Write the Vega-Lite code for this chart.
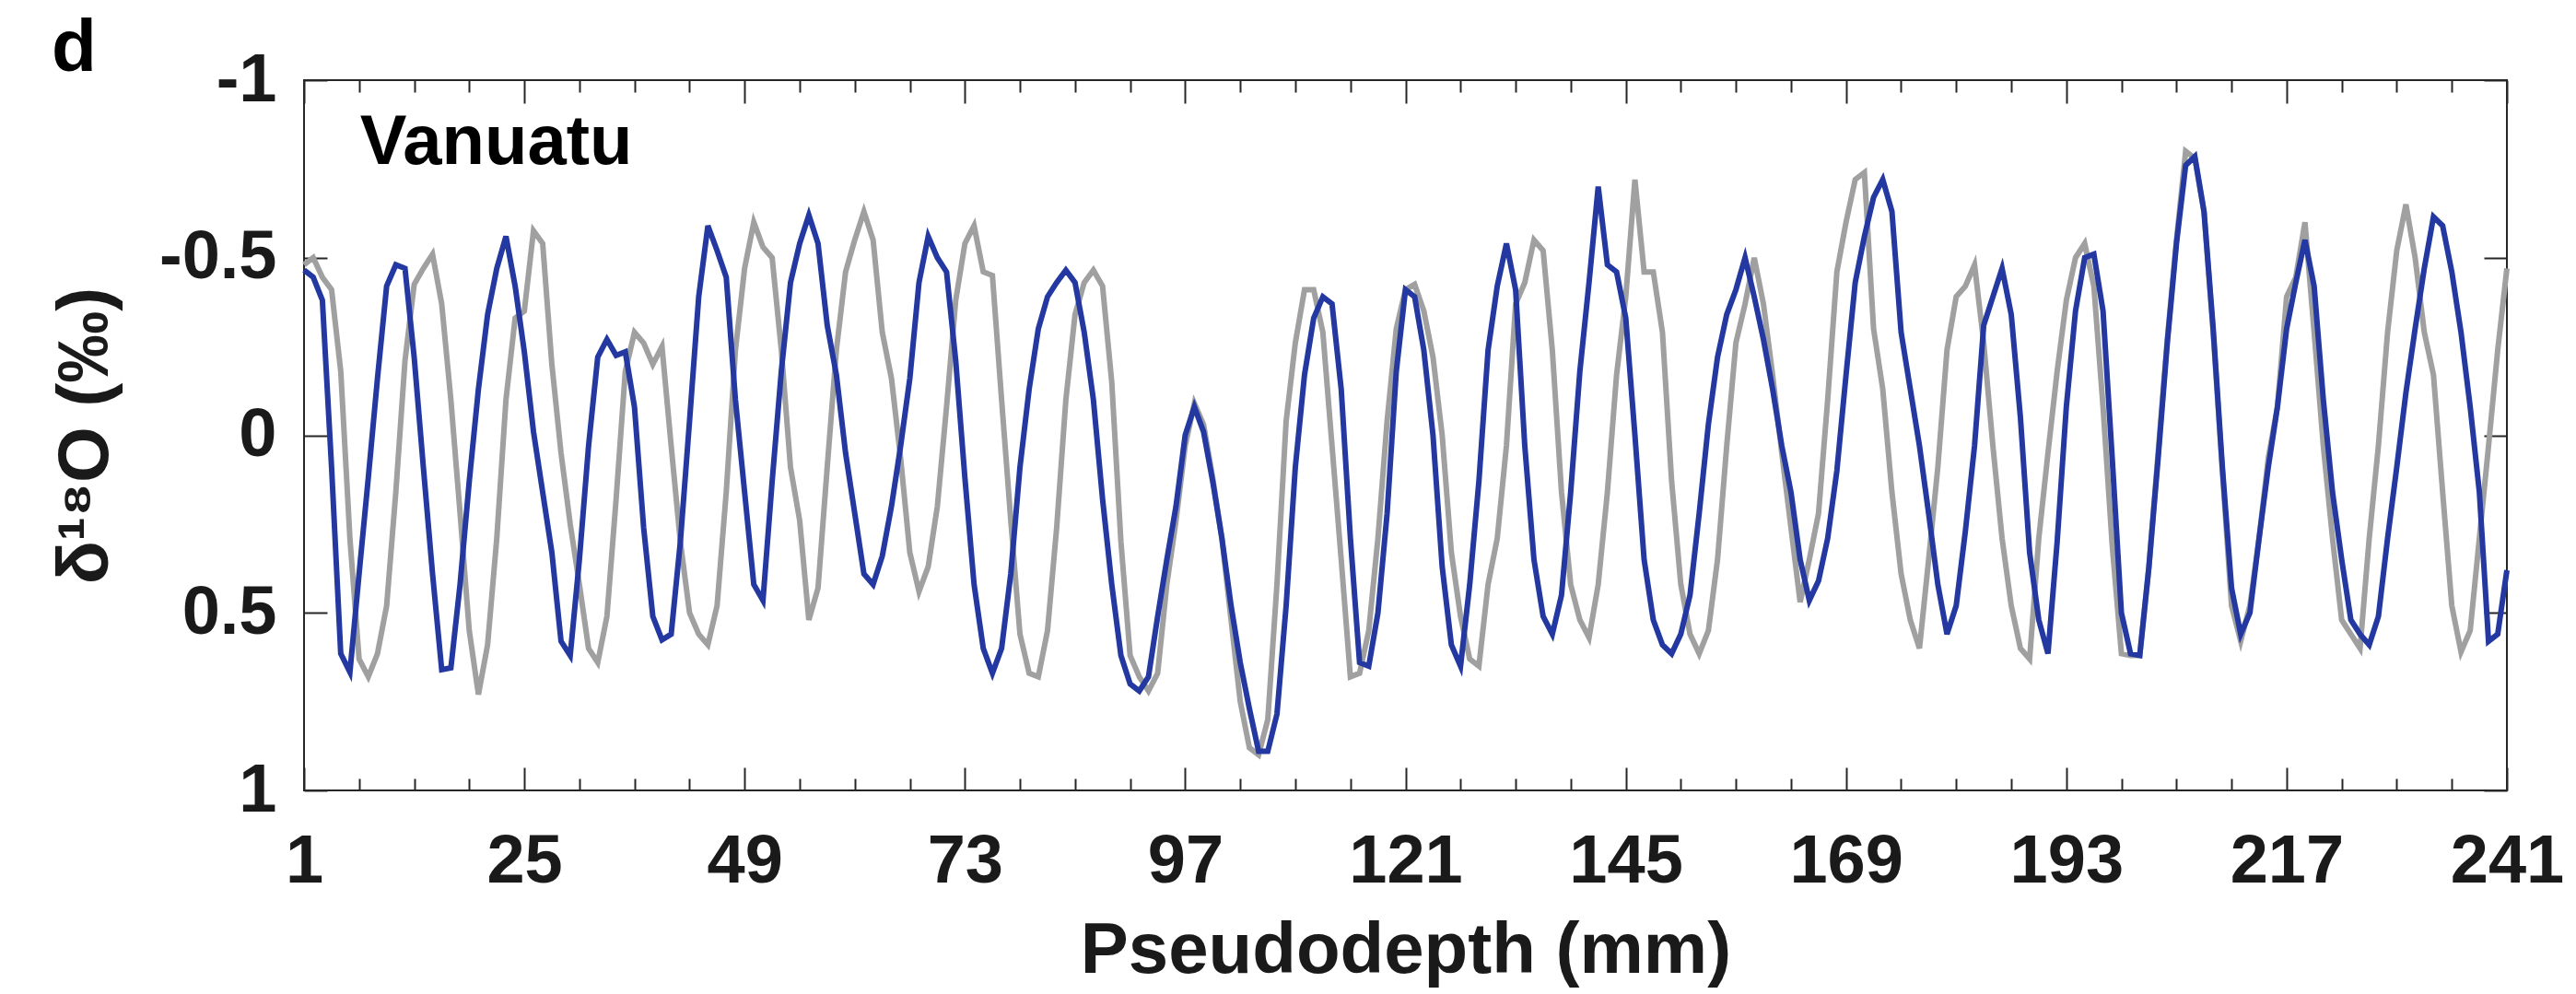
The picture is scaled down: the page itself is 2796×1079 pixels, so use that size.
{
 "$schema": "https://vega.github.io/schema/vega-lite/v6.json",
 "width": 2391, "height": 771,
 "autosize": {"type": "none"},
 "padding": {"left": 330, "top": 87, "right": 75, "bottom": 221},
 "background": "white",
 "config": {
  "view": {"stroke": "#262626", "strokeWidth": 2},
  "font": "Liberation Sans",
  "axis": {"domain": false, "grid": false, "tickColor": "#262626", "tickWidth": 2, "labelFont": "Liberation Sans", "labelFontWeight": "bold", "labelFontSize": 74, "labelColor": "#1a1a1a", "titleFont": "Liberation Sans", "titleFontWeight": "bold", "titleFontSize": 78, "titleColor": "#1a1a1a", "labelFlush": false, "labelOverlap": false}
 },
 "title": {"text": "d", "anchor": "start", "frame": "group", "fontSize": 80, "fontWeight": "bold", "font": "Liberation Sans", "color": "#000000", "dx": -274, "dy": 117, "offset": 10, "baseline": "alphabetic"},
 "datasets": {
  "gray": [
   {"d":1,"v":-0.48},{"d":2,"v":-0.50},{"d":3,"v":-0.445},{"d":4,"v":-0.41},{"d":5,"v":-0.18},{"d":6,"v":0.29},{"d":7,"v":0.63},{"d":8,"v":0.68},{"d":9,"v":0.615},{"d":10,"v":0.48},
   {"d":11,"v":0.16},{"d":12,"v":-0.21},{"d":13,"v":-0.425},{"d":14,"v":-0.47},{"d":15,"v":-0.51},{"d":16,"v":-0.37},{"d":17,"v":-0.10},{"d":18,"v":0.22},{"d":19,"v":0.55},{"d":20,"v":0.73},
   {"d":21,"v":0.59},{"d":22,"v":0.29},{"d":23,"v":-0.10},{"d":24,"v":-0.33},{"d":25,"v":-0.35},{"d":26,"v":-0.576},{"d":27,"v":-0.54},{"d":28,"v":-0.2},{"d":29,"v":0.05},{"d":30,"v":0.25},
   {"d":31,"v":0.42},{"d":32,"v":0.60},{"d":33,"v":0.64},{"d":34,"v":0.51},{"d":35,"v":0.18},{"d":36,"v":-0.18},{"d":37,"v":-0.29},{"d":38,"v":-0.26},{"d":39,"v":-0.20},{"d":40,"v":-0.25},
   {"d":41,"v":0.03},{"d":42,"v":0.30},{"d":43,"v":0.50},{"d":44,"v":0.56},{"d":45,"v":0.59},{"d":46,"v":0.48},{"d":47,"v":0.16},{"d":48,"v":-0.24},{"d":49,"v":-0.47},{"d":50,"v":-0.60},
   {"d":51,"v":-0.53},{"d":52,"v":-0.50},{"d":53,"v":-0.24},{"d":54,"v":0.09},{"d":55,"v":0.24},{"d":56,"v":0.52},{"d":57,"v":0.43},{"d":58,"v":0.09},{"d":59,"v":-0.24},{"d":60,"v":-0.46},
   {"d":61,"v":-0.55},{"d":62,"v":-0.63},{"d":63,"v":-0.55},{"d":64,"v":-0.29},{"d":65,"v":-0.16},{"d":66,"v":0.065},{"d":67,"v":0.33},{"d":68,"v":0.44},{"d":69,"v":0.37},{"d":70,"v":0.20},
   {"d":71,"v":-0.08},{"d":72,"v":-0.38},{"d":73,"v":-0.54},{"d":74,"v":-0.59},{"d":75,"v":-0.46},{"d":76,"v":-0.45},{"d":77,"v":-0.10},{"d":78,"v":0.24},{"d":79,"v":0.56},{"d":80,"v":0.67},
   {"d":81,"v":0.68},{"d":82,"v":0.55},{"d":83,"v":0.26},{"d":84,"v":-0.10},{"d":85,"v":-0.34},{"d":86,"v":-0.43},{"d":87,"v":-0.465},{"d":88,"v":-0.42},{"d":89,"v":-0.15},{"d":90,"v":0.30},
   {"d":91,"v":0.62},{"d":92,"v":0.68},{"d":93,"v":0.72},{"d":94,"v":0.67},{"d":95,"v":0.42},{"d":96,"v":0.24},{"d":97,"v":0.03},{"d":98,"v":-0.09},{"d":99,"v":-0.03},{"d":100,"v":0.12},
   {"d":101,"v":0.29},{"d":102,"v":0.52},{"d":103,"v":0.75},{"d":104,"v":0.88},{"d":105,"v":0.90},{"d":106,"v":0.80},{"d":107,"v":0.42},{"d":108,"v":-0.04},{"d":109,"v":-0.26},{"d":110,"v":-0.41},
   {"d":111,"v":-0.41},{"d":112,"v":-0.29},{"d":113,"v":0.03},{"d":114,"v":0.35},{"d":115,"v":0.68},{"d":116,"v":0.67},{"d":117,"v":0.55},{"d":118,"v":0.29},{"d":119,"v":-0.04},{"d":120,"v":-0.30},
   {"d":121,"v":-0.41},{"d":122,"v":-0.425},{"d":123,"v":-0.35},{"d":124,"v":-0.22},{"d":125,"v":0.00},{"d":126,"v":0.33},{"d":127,"v":0.51},{"d":128,"v":0.63},{"d":129,"v":0.65},{"d":130,"v":0.42},
   {"d":131,"v":0.29},{"d":132,"v":0.03},{"d":133,"v":-0.37},{"d":134,"v":-0.43},{"d":135,"v":-0.55},{"d":136,"v":-0.52},{"d":137,"v":-0.24},{"d":138,"v":0.16},{"d":139,"v":0.42},{"d":140,"v":0.52},
   {"d":141,"v":0.57},{"d":142,"v":0.42},{"d":143,"v":0.16},{"d":144,"v":-0.17},{"d":145,"v":-0.39},{"d":146,"v":-0.72},{"d":147,"v":-0.46},{"d":148,"v":-0.46},{"d":149,"v":-0.29},{"d":150,"v":0.13},
   {"d":151,"v":0.42},{"d":152,"v":0.56},{"d":153,"v":0.615},{"d":154,"v":0.55},{"d":155,"v":0.35},{"d":156,"v":0.03},{"d":157,"v":-0.26},{"d":158,"v":-0.37},{"d":159,"v":-0.50},{"d":160,"v":-0.37},
   {"d":161,"v":-0.17},{"d":162,"v":0.05},{"d":163,"v":0.26},{"d":164,"v":0.47},{"d":165,"v":0.35},{"d":166,"v":0.22},{"d":167,"v":-0.10},{"d":168,"v":-0.46},{"d":169,"v":-0.60},{"d":170,"v":-0.72},
   {"d":171,"v":-0.74},{"d":172,"v":-0.30},{"d":173,"v":-0.13},{"d":174,"v":0.16},{"d":175,"v":0.39},{"d":176,"v":0.52},{"d":177,"v":0.60},{"d":178,"v":0.35},{"d":179,"v":0.09},{"d":180,"v":-0.24},
   {"d":181,"v":-0.39},{"d":182,"v":-0.42},{"d":183,"v":-0.48},{"d":184,"v":-0.26},{"d":185,"v":0.03},{"d":186,"v":0.29},{"d":187,"v":0.48},{"d":188,"v":0.60},{"d":189,"v":0.63},{"d":190,"v":0.29},
   {"d":191,"v":0.05},{"d":192,"v":-0.18},{"d":193,"v":-0.38},{"d":194,"v":-0.50},{"d":195,"v":-0.54},{"d":196,"v":-0.42},{"d":197,"v":-0.08},{"d":198,"v":0.31},{"d":199,"v":0.615},{"d":200,"v":0.62},
   {"d":201,"v":0.62},{"d":202,"v":0.37},{"d":203,"v":0.05},{"d":204,"v":-0.27},{"d":205,"v":-0.55},{"d":206,"v":-0.80},{"d":207,"v":-0.78},{"d":208,"v":-0.63},{"d":209,"v":-0.29},{"d":210,"v":0.10},
   {"d":211,"v":0.48},{"d":212,"v":0.58},{"d":213,"v":0.48},{"d":214,"v":0.29},{"d":215,"v":0.065},{"d":216,"v":-0.08},{"d":217,"v":-0.39},{"d":218,"v":-0.445},{"d":219,"v":-0.60},{"d":220,"v":-0.29},
   {"d":221,"v":0.03},{"d":222,"v":0.29},{"d":223,"v":0.52},{"d":224,"v":0.56},{"d":225,"v":0.60},{"d":226,"v":0.29},{"d":227,"v":0.03},{"d":228,"v":-0.29},{"d":229,"v":-0.52},{"d":230,"v":-0.65},
   {"d":231,"v":-0.50},{"d":232,"v":-0.29},{"d":233,"v":-0.17},{"d":234,"v":0.16},{"d":235,"v":0.48},{"d":236,"v":0.61},{"d":237,"v":0.55},{"d":238,"v":0.29},{"d":239,"v":0.03},{"d":240,"v":-0.24},
   {"d":241,"v":-0.47}
  ],
  "blue": [
   {"d":1,"v":-0.465},{"d":2,"v":-0.445},{"d":3,"v":-0.38},{"d":4,"v":0.09},{"d":5,"v":0.615},{"d":6,"v":0.667},{"d":7,"v":0.39},{"d":8,"v":0.12},{"d":9,"v":-0.16},{"d":10,"v":-0.42},
   {"d":11,"v":-0.48},{"d":12,"v":-0.47},{"d":13,"v":-0.22},{"d":14,"v":0.09},{"d":15,"v":0.39},{"d":16,"v":0.66},{"d":17,"v":0.655},{"d":18,"v":0.42},{"d":19,"v":0.13},{"d":20,"v":-0.13},
   {"d":21,"v":-0.34},{"d":22,"v":-0.47},{"d":23,"v":-0.56},{"d":24,"v":-0.42},{"d":25,"v":-0.235},{"d":26,"v":-0.01},{"d":27,"v":0.16},{"d":28,"v":0.33},{"d":29,"v":0.58},{"d":30,"v":0.62},
   {"d":31,"v":0.35},{"d":32,"v":0.03},{"d":33,"v":-0.22},{"d":34,"v":-0.27},{"d":35,"v":-0.225},{"d":36,"v":-0.235},{"d":37,"v":-0.08},{"d":38,"v":0.26},{"d":39,"v":0.51},{"d":40,"v":0.576},
   {"d":41,"v":0.56},{"d":42,"v":0.30},{"d":43,"v":-0.04},{"d":44,"v":-0.39},{"d":45,"v":-0.59},{"d":46,"v":-0.52},{"d":47,"v":-0.445},{"d":48,"v":-0.10},{"d":49,"v":0.16},{"d":50,"v":0.42},
   {"d":51,"v":0.465},{"d":52,"v":0.13},{"d":53,"v":-0.18},{"d":54,"v":-0.43},{"d":55,"v":-0.54},{"d":56,"v":-0.62},{"d":57,"v":-0.54},{"d":58,"v":-0.31},{"d":59,"v":-0.17},{"d":60,"v":0.05},
   {"d":61,"v":0.22},{"d":62,"v":0.39},{"d":63,"v":0.42},{"d":64,"v":0.34},{"d":65,"v":0.20},{"d":66,"v":0.03},{"d":67,"v":-0.16},{"d":68,"v":-0.43},{"d":69,"v":-0.56},{"d":70,"v":-0.50},
   {"d":71,"v":-0.46},{"d":72,"v":-0.21},{"d":73,"v":0.12},{"d":74,"v":0.42},{"d":75,"v":0.60},{"d":76,"v":0.67},{"d":77,"v":0.60},{"d":78,"v":0.39},{"d":79,"v":0.09},{"d":80,"v":-0.13},
   {"d":81,"v":-0.30},{"d":82,"v":-0.39},{"d":83,"v":-0.43},{"d":84,"v":-0.465},{"d":85,"v":-0.43},{"d":86,"v":-0.29},{"d":87,"v":-0.10},{"d":88,"v":0.18},{"d":89,"v":0.42},{"d":90,"v":0.62},
   {"d":91,"v":0.70},{"d":92,"v":0.72},{"d":93,"v":0.68},{"d":94,"v":0.51},{"d":95,"v":0.35},{"d":96,"v":0.20},{"d":97,"v":0.00},{"d":98,"v":-0.08},{"d":99,"v":-0.01},{"d":100,"v":0.13},
   {"d":101,"v":0.29},{"d":102,"v":0.48},{"d":103,"v":0.64},{"d":104,"v":0.77},{"d":105,"v":0.89},{"d":106,"v":0.89},{"d":107,"v":0.785},{"d":108,"v":0.48},{"d":109,"v":0.09},{"d":110,"v":-0.17},
   {"d":111,"v":-0.33},{"d":112,"v":-0.39},{"d":113,"v":-0.37},{"d":114,"v":-0.13},{"d":115,"v":0.29},{"d":116,"v":0.64},{"d":117,"v":0.65},{"d":118,"v":0.50},{"d":119,"v":0.22},{"d":120,"v":-0.18},
   {"d":121,"v":-0.41},{"d":122,"v":-0.39},{"d":123,"v":-0.24},{"d":124,"v":0.00},{"d":125,"v":0.37},{"d":126,"v":0.59},{"d":127,"v":0.65},{"d":128,"v":0.42},{"d":129,"v":0.13},{"d":130,"v":-0.24},
   {"d":131,"v":-0.42},{"d":132,"v":-0.54},{"d":133,"v":-0.41},{"d":134,"v":0.03},{"d":135,"v":0.35},{"d":136,"v":0.51},{"d":137,"v":0.56},{"d":138,"v":0.45},{"d":139,"v":0.16},{"d":140,"v":-0.18},
   {"d":141,"v":-0.43},{"d":142,"v":-0.70},{"d":143,"v":-0.48},{"d":144,"v":-0.46},{"d":145,"v":-0.33},{"d":146,"v":0.00},{"d":147,"v":0.35},{"d":148,"v":0.52},{"d":149,"v":0.59},{"d":150,"v":0.615},
   {"d":151,"v":0.56},{"d":152,"v":0.45},{"d":153,"v":0.22},{"d":154,"v":-0.03},{"d":155,"v":-0.22},{"d":156,"v":-0.34},{"d":157,"v":-0.41},{"d":158,"v":-0.50},{"d":159,"v":-0.39},{"d":160,"v":-0.27},
   {"d":161,"v":-0.13},{"d":162,"v":0.03},{"d":163,"v":0.16},{"d":164,"v":0.35},{"d":165,"v":0.465},{"d":166,"v":0.41},{"d":167,"v":0.29},{"d":168,"v":0.10},{"d":169,"v":-0.17},{"d":170,"v":-0.43},
   {"d":171,"v":-0.56},{"d":172,"v":-0.67},{"d":173,"v":-0.72},{"d":174,"v":-0.63},{"d":175,"v":-0.29},{"d":176,"v":-0.13},{"d":177,"v":0.03},{"d":178,"v":0.22},{"d":179,"v":0.42},{"d":180,"v":0.56},
   {"d":181,"v":0.48},{"d":182,"v":0.27},{"d":183,"v":0.03},{"d":184,"v":-0.31},{"d":185,"v":-0.39},{"d":186,"v":-0.47},{"d":187,"v":-0.34},{"d":188,"v":-0.05},{"d":189,"v":0.33},{"d":190,"v":0.52},
   {"d":191,"v":0.615},{"d":192,"v":0.30},{"d":193,"v":-0.08},{"d":194,"v":-0.35},{"d":195,"v":-0.50},{"d":196,"v":-0.51},{"d":197,"v":-0.35},{"d":198,"v":0.065},{"d":199,"v":0.50},{"d":200,"v":0.615},
   {"d":201,"v":0.62},{"d":202,"v":0.37},{"d":203,"v":0.065},{"d":204,"v":-0.26},{"d":205,"v":-0.54},{"d":206,"v":-0.76},{"d":207,"v":-0.785},{"d":208,"v":-0.63},{"d":209,"v":-0.30},{"d":210,"v":0.09},
   {"d":211,"v":0.43},{"d":212,"v":0.56},{"d":213,"v":0.50},{"d":214,"v":0.29},{"d":215,"v":0.09},{"d":216,"v":-0.08},{"d":217,"v":-0.30},{"d":218,"v":-0.43},{"d":219,"v":-0.55},{"d":220,"v":-0.42},
   {"d":221,"v":-0.10},{"d":222,"v":0.16},{"d":223,"v":0.35},{"d":224,"v":0.52},{"d":225,"v":0.56},{"d":226,"v":0.59},{"d":227,"v":0.51},{"d":228,"v":0.29},{"d":229,"v":0.09},{"d":230,"v":-0.12},
   {"d":231,"v":-0.30},{"d":232,"v":-0.47},{"d":233,"v":-0.615},{"d":234,"v":-0.59},{"d":235,"v":-0.46},{"d":236,"v":-0.29},{"d":237,"v":-0.08},{"d":238,"v":0.16},{"d":239,"v":0.58},{"d":240,"v":0.56},
   {"d":241,"v":0.38}
  ]
 },
 "layer": [
  {
   "data": {"name": "gray"},
   "mark": {"type": "line", "color": "#a0a0a0", "strokeWidth": 6},
   "encoding": {
    "x": {"field": "d", "type": "quantitative", "scale": {"domain": [1, 241], "nice": false, "zero": false},
      "axis": {"orient": "bottom", "values": [1,25,49,73,97,121,145,169,193,217,241], "tickSize": -25, "labelPadding": 66, "labelBaseline": "top", "labelExpr": "toString(datum.value)", "title": "Pseudodepth (mm)", "titlePadding": 21}},
    "y": {"field": "v", "type": "quantitative", "scale": {"domain": [-1, 1], "reverse": true, "nice": false, "zero": false},
      "axis": {"orient": "left", "values": [-1,-0.5,0,0.5,1], "tickSize": -25, "labelPadding": 55, "labelExpr": "toString(datum.value)", "title": "δ¹⁸O (‰)", "titlePadding": 40}}
   }
  },
  {
   "data": {"name": "blue"},
   "mark": {"type": "line", "color": "#2338a0", "strokeWidth": 6},
   "encoding": {
    "x": {"field": "d", "type": "quantitative", "axis": {"orient": "top", "values": [1,25,49,73,97,121,145,169,193,217,241], "tickSize": -25, "labels": false, "title": null}},
    "y": {"field": "v", "type": "quantitative", "axis": {"orient": "right", "values": [-1,-0.5,0,0.5,1], "tickSize": -25, "labels": false, "title": null}}
   }
  },
  {
   "data": {"name": "gray"},
   "mark": {"type": "point", "opacity": 0},
   "encoding": {
    "x": {"field": "d", "type": "quantitative", "axis": {"orient": "bottom", "values": [7,13,19,31,37,43,55,61,67,79,85,91,103,109,115,127,133,139,151,157,163,175,181,187,199,205,211,223,229,235], "tickSize": -13, "labels": false, "title": null}},
    "y": {"field": "v", "type": "quantitative", "axis": null}
   }
  },
  {
   "data": {"name": "gray"},
   "mark": {"type": "point", "opacity": 0},
   "encoding": {
    "x": {"field": "d", "type": "quantitative", "axis": {"orient": "top", "values": [7,13,19,31,37,43,55,61,67,79,85,91,103,109,115,127,133,139,151,157,163,175,181,187,199,205,211,223,229,235], "tickSize": -13, "labels": false, "title": null}},
    "y": {"field": "v", "type": "quantitative", "axis": null}
   }
  },
  {
   "data": {"values": [{"label": "Vanuatu"}]},
   "mark": {"type": "text", "fontSize": 76, "fontWeight": "bold", "font": "Liberation Sans", "align": "left", "baseline": "alphabetic", "color": "#000000"},
   "encoding": {
    "x": {"datum": 7.1, "type": "quantitative", "axis": null},
    "y": {"datum": -0.764, "type": "quantitative", "axis": null},
    "text": {"field": "label"}
   }
  }
 ],
 "resolve": {"axis": {"x": "independent", "y": "independent"}}
}
